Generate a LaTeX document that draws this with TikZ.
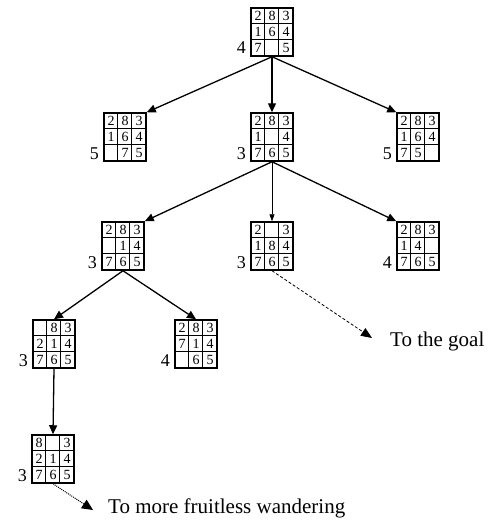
\documentclass[tikz,border=0pt]{standalone}
\usepackage{fontspec}
\setmainfont{Liberation Serif}
\usetikzlibrary{arrows.meta,calc}
\tikzset{
 board/.style={draw, line width=1.5pt, minimum width=42pt, minimum height=48pt, inner sep=0pt},
 gridl/.style={line width=1pt},
 digit/.style={font=\fontsize{14}{14}\selectfont, inner sep=0pt},
 hval/.style={font=\fontsize{18}{18}\selectfont, inner sep=0pt, anchor=base east},
 edge/.style={line width=1.3pt, -{Triangle[length=9pt,width=8pt]}},
 thinedge/.style={line width=0.7pt, -{Triangle[length=7pt,width=5pt]}},
 note/.style={font=\fontsize{21}{21}\selectfont, inner sep=0pt, anchor=west},
}
\newcommand\puz[5]{%
  \node[board] (#1) at (#2,#3) {};
  \draw[gridl] ($(#1.north west)+(14,0)$) -- ($(#1.south west)+(14,0)$);
  \draw[gridl] ($(#1.north west)+(28,0)$) -- ($(#1.south west)+(28,0)$);
  \draw[gridl] ($(#1.north west)+(0,16)$) -- ($(#1.north east)+(0,16)$);
  \draw[gridl] ($(#1.north west)+(0,32)$) -- ($(#1.north east)+(0,32)$);
  \foreach \d [count=\i from 0] in {#4} {
    \pgfmathtruncatemacro\cc{mod(\i,3)-1}
    \pgfmathtruncatemacro\rr{div(\i,3)-1}
    \node[digit] at (#2+14*\cc, #3+16*\rr) {\d};
  }
  \node[hval] (#1h) at (#2-21-5, #3+22) {#5};
}
\begin{document}
\begin{tikzpicture}[x=1pt,y=-1pt]
\useasboundingbox (0,0) rectangle (489,527);
\puz{r}{272}{32}{2,8,3,1,6,4,7,,5}{4}
\puz{la}{125}{137}{2,8,3,1,6,4,,7,5}{5}
\puz{lb}{272}{137}{2,8,3,1,,4,7,6,5}{3}
\puz{lc}{418}{137}{2,8,3,1,6,4,7,5,}{5}
\puz{ma}{123}{246}{2,8,3,,1,4,7,6,5}{3}
\puz{mb}{272}{246}{2,,3,1,8,4,7,6,5}{3}
\puz{mc}{418}{246}{2,8,3,1,4,,7,6,5}{4}
\puz{na}{54}{344}{,8,3,2,1,4,7,6,5}{3}
\puz{nb}{196}{344}{2,8,3,7,1,4,,6,5}{4}
\puz{pa}{53}{459}{8,,3,2,1,4,7,6,5}{3}
\draw[edge] (r.south) -- (la.north east);
\draw[edge] (r.south) -- (lb.north);
\draw[edge] (r.south) -- (lc.north west);
\draw[edge] (lb.south) -- (ma.north east);
\draw[thinedge] (lb.south) -- (mb.north);
\draw[edge] (lb.south) -- (mc.north west);
\draw[edge] (ma.south) -- (na.north);
\draw[edge] (ma.south) -- (nb.north);
\draw[edge] (na.south) -- (pa.north);
\node[note] (goal) at (390,341) {To the goal};
\coordinate (g) at (372,338);
\draw[line width=0.8pt, densely dashed, -{Triangle[length=11pt,width=9pt]}] (mb.south) -- (g);
\node[note] (fw) at (108,508) {To more fruitless wandering};
\coordinate (fwt) at (93,510);
\draw[line width=1pt, densely dotted, -{Triangle[length=11pt,width=10pt]}] (pa.south) -- (fwt);
\end{tikzpicture}
\end{document}
